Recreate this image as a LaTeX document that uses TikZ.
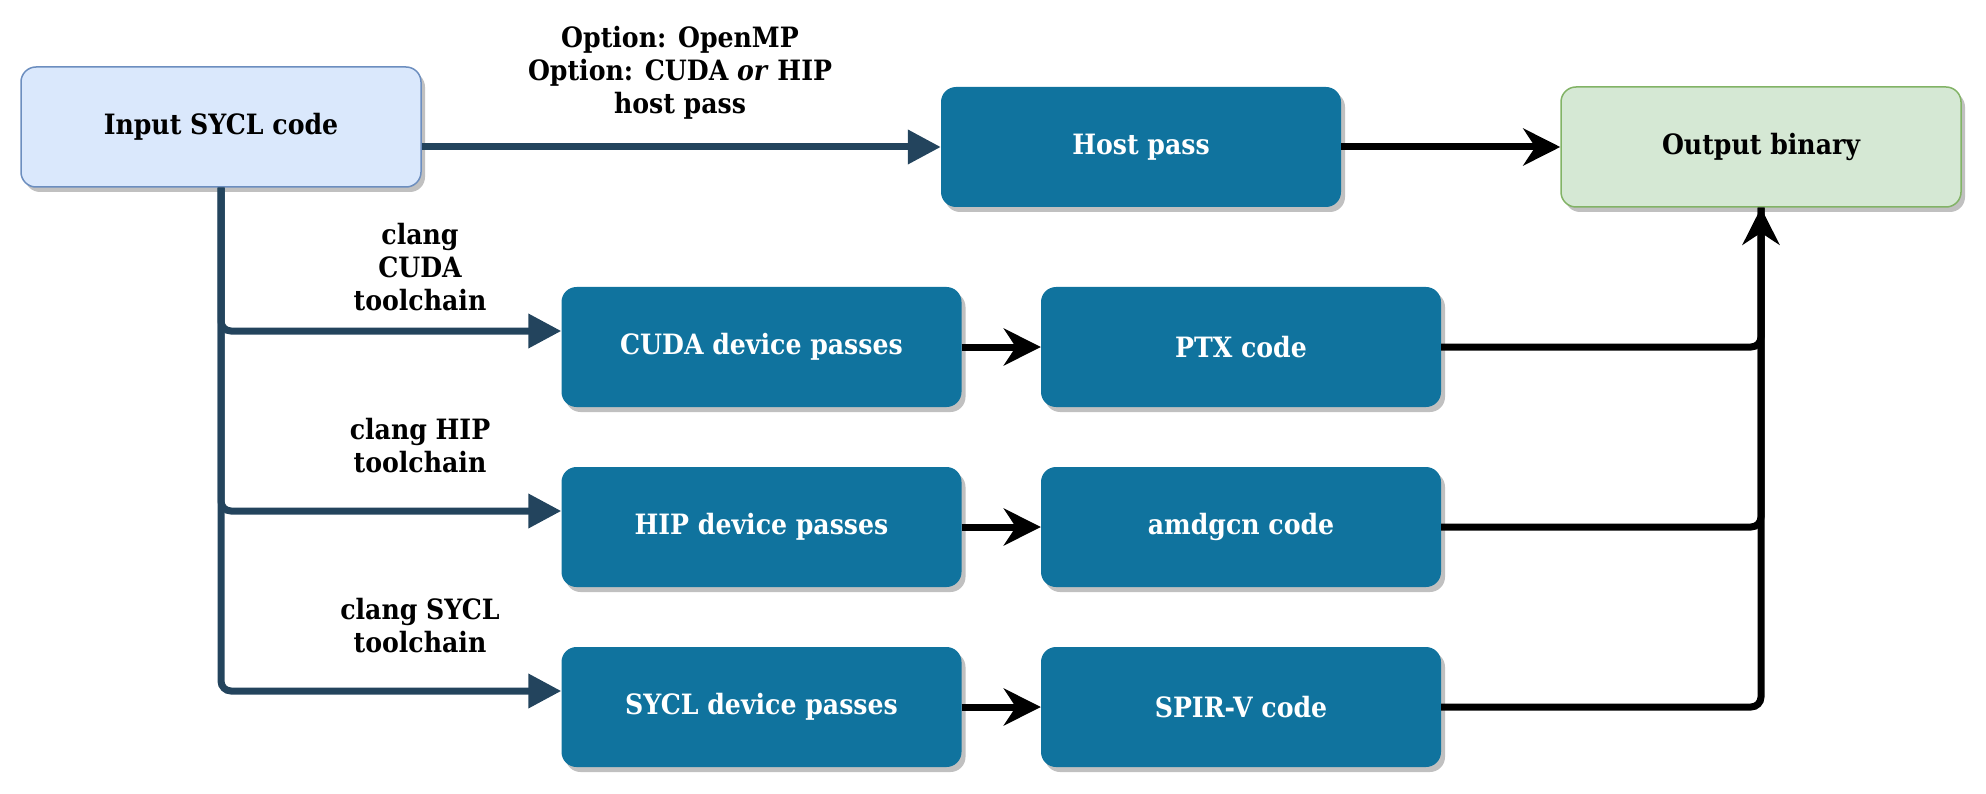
\documentclass[tikz,border=0pt]{standalone}
\usepackage{fontspec}
\setmainfont{DejaVu Serif Condensed}
\usepackage{tikz}
\usetikzlibrary{positioning}
\usetikzlibrary{arrows.meta}
\usetikzlibrary{shadows}
\usepackage{xcolor}
\definecolor{srcfill}{HTML}{DAE8FC}
\definecolor{srcline}{HTML}{6C8EBF}
\definecolor{outfill}{HTML}{D5E8D4}
\definecolor{outline}{HTML}{82B366}
\definecolor{passfill}{HTML}{10739E}
\definecolor{toolcol}{HTML}{23445D}
\definecolor{shadowcol}{HTML}{C0C0C0}

\begin{document}
\begin{tikzpicture}[x=1pt, y=-1pt,
    box/.style={rectangle, rounded corners=15pt, minimum width=400pt, minimum height=120pt,
        font=\bfseries\fontsize{28}{33}\selectfont,
        drop shadow={shadow xshift=4pt, shadow yshift=-5pt, fill=shadowcol, opacity=1}},
    srcbox/.style={box, draw=srcline, line width=1.5pt, fill=srcfill},
    outbox/.style={box, draw=outline, line width=1.5pt, fill=outfill},
    passbox/.style={box, fill=passfill, text=white},
    lbl/.style={align=center, inner sep=0pt, anchor=south, font=\bfseries\fontsize{28}{33}\selectfont},
    toolarrow/.style={draw=toolcol, line width=7pt, rounded corners=10pt, -{Triangle[length=33pt, width=33pt]}},
    codearrow/.style={draw=black, line width=7pt, rounded corners=10pt, -{Stealth[length=37pt, width=37pt, inset=12pt]}},
    codeline/.style={draw=black, line width=7pt, rounded corners=10pt}]
\useasboundingbox (0,0) rectangle (1986,794);

\node[srcbox] (input) at (221,127) {Input SYCL code};
\node[passbox] (host) at (1141,147) {Host pass};
\node[outbox] (output) at (1761,147) {Output binary};

\node[passbox] (cuda) at (761.5,347) {CUDA device passes};
\node[passbox] (ptx) at (1241,347) {PTX code};
\node[passbox] (hip) at (761.5,527) {HIP device passes};
\node[passbox] (amdgcn) at (1241,527) {amdgcn code};
\node[passbox] (sycl) at (761.5,707) {SYCL device passes};
\node[passbox] (spirv) at (1241,707) {SPIR-V code};

\node[lbl] (hostlbl) at (680,120) {Option: OpenMP\\Option: CUDA \textit{or} HIP\\host pass};
\node[lbl] (cudalbl) at (420,311) {clang\\CUDA\\toolchain};
\node[lbl] (hiplbl) at (420,473) {clang HIP\\toolchain};
\node[lbl] (sycllbl) at (420,653) {clang SYCL\\toolchain};

% host path
\draw[toolarrow] (input.east |- host.west) -- (host.west);
\draw[codearrow] (host.east) -- (output.west);

% device paths
\draw[toolarrow] (input.south) |- ([yshift=16pt]cuda.west);
\draw[toolarrow] (input.south) |- ([yshift=16pt]hip.west);
\draw[toolarrow] (input.south) |- ([yshift=16pt]sycl.west);

\draw[codearrow] (cuda.east) -- (ptx.west);
\draw[codearrow] (hip.east) -- (amdgcn.west);
\draw[codearrow] (sycl.east) -- (spirv.west);

\draw[codeline] (ptx.east) -| (output.south);
\draw[codeline] (amdgcn.east) -| (output.south);
\draw[codearrow] (spirv.east) -| (output.south);
\end{tikzpicture}
\end{document}
